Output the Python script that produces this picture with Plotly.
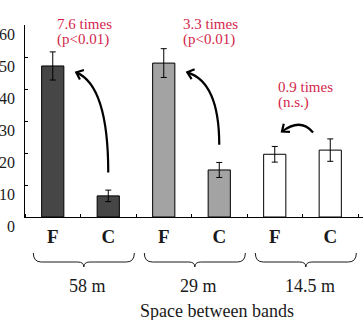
import math
import plotly.graph_objects as go

# ---------------- data ----------------
BAR_LABELS = ["F", "C", "F", "C", "F", "C"]
VALUES = [47.2, 6.6, 48.1, 14.7, 19.6, 20.9]
ERRORS = [4.4, 1.8, 4.5, 2.35, 2.45, 3.5]
GROUPS = ["58 m", "29 m", "14.5 m"]
RATIOS = ["7.6 times", "3.3 times", "0.9 times"]
SIGNIF = ["(p<0.01)", "(p<0.01)", "(n.s.)"]
Y_TICKS = [0, 10, 20, 30, 40, 50, 60]
X_TITLE = "Space between bands"

# ---------------- layout geometry ----------------
W, H = 363, 320
ML, MR, MT, MB = 25, 0, 25, 103
X_RANGE = [-0.5, 5.59]
Y_RANGE = [0, 60]
PW, PH = W - ML - MR, H - MT - MB
SX = PW / (X_RANGE[1] - X_RANGE[0])   # px per x unit
SY = PH / (Y_RANGE[1] - Y_RANGE[0])   # px per y unit

FILLS = ["#464646", "#464646", "#a3a3a3", "#a3a3a3", "#ffffff", "#ffffff"]
RED = "#d41f4b"
SERIF = "Liberation Serif"
INK = "#1a1a1a"

xs = list(range(len(VALUES)))


def py_to_paper(py):
    return (H - MB - py) / PH


def dpx(px):
    return px / SX


def dpy(py):
    return -py / SY


fig = go.Figure()
fig.add_trace(go.Bar(
    x=xs, y=VALUES, width=0.4,
    marker=dict(color=FILLS, line=dict(color="black", width=1)),
    error_y=dict(type="data", array=ERRORS, color="black", thickness=1, width=3),
    showlegend=False, hoverinfo="skip",
))

shapes = []
annotations = []

# y tick labels (drawn slightly below their ticks, as in the reference)
for t in Y_TICKS:
    annotations.append(dict(
        x=0, xref="paper", y=t, yref="y", text=str(t), showarrow=False,
        xanchor="right", yanchor="middle", xshift=-8, yshift=-9.5,
        font=dict(family=SERIF, size=16, color=INK),
    ))


def arrowhead(tip, prev, length=8, ang=40):
    bx = (prev[0] - tip[0]) * SX
    by = -(prev[1] - tip[1]) * SY
    n = math.hypot(bx, by)
    bx, by = bx / n, by / n
    pts = []
    for s in (1, -1):
        a = math.radians(ang * s)
        rx = bx * math.cos(a) - by * math.sin(a)
        ry = bx * math.sin(a) + by * math.cos(a)
        pts.append((tip[0] + dpx(rx * length), tip[1] + dpy(ry * length)))
    return (f"M{pts[0][0]},{pts[0][1]} L{tip[0]},{tip[1]} L{pts[1][0]},{pts[1][1]}")


ARROW_TOP = 45.2
for g in range(3):
    fi, ci = 2 * g, 2 * g + 1
    if g < 2:
        x0, y0 = ci, VALUES[ci] + ERRORS[ci] + 5.5
        x3, y3 = ci + dpx(-32), ARROW_TOP
        hpx = (y3 - y0) * SY
        wpx = (x0 - x3) * SX
        p1 = (x0, y0 + 0.52 * (y3 - y0))
        p2 = (x3 + dpx(0.75 * wpx), y3 + dpy(0.1 * hpx))
        path = f"M{x0},{y0} C{p1[0]},{p1[1]} {p2[0]},{p2[1]} {x3},{y3}"
        head = arrowhead((x3, y3), p2)
    else:
        x0, y0 = ci - 0.31, VALUES[ci] + ERRORS[ci] + 2.0
        x3, y3 = fi + 0.13, y0 + 0.3
        pc = ((x0 + x3) / 2 + dpx(3), y0 + dpy(-15))
        path = f"M{x0},{y0} Q{pc[0]},{pc[1]} {x3},{y3}"
        head = arrowhead((x3, y3), pc)
    for p in (path, head):
        shapes.append(dict(type="path", path=p, xref="x", yref="y",
                           line=dict(color="black", width=2.2)))

# ratio annotations
RATIO_POS = [(55, 24.3), (181, 24.3), (276, 87.3)]
for g in range(3):
    px, py = RATIO_POS[g]
    xd = X_RANGE[0] + (px - ML) / SX
    for k, txt in enumerate([RATIOS[g], SIGNIF[g]]):
        annotations.append(dict(
            x=xd, xref="x", y=py_to_paper(py + 15 * k), yref="paper",
            text=txt, showarrow=False, xanchor="left", yanchor="middle",
            font=dict(family=SERIF, size=15, color=RED),
        ))

# braces and group labels
yt, ym, yp = py_to_paper(253), py_to_paper(262), py_to_paper(267)
for g in range(3):
    c = 2 * g + 0.5 + 0.06
    hw = 0.91
    a, b = c - hw, c + hw
    r, r2 = dpx(8), dpx(6)
    path = (f"M{a},{yt} Q{a},{ym} {a + r},{ym} L{c - r2},{ym} "
            f"Q{c},{ym} {c},{yp} Q{c},{ym} {c + r2},{ym} "
            f"L{b - r},{ym} Q{b},{ym} {b},{yt}")
    shapes.append(dict(type="path", path=path, xref="x", yref="paper",
                       line=dict(color=INK, width=1)))
    annotations.append(dict(
        x=2 * g + 0.5 + 0.13, xref="x", y=py_to_paper(285.5), yref="paper",
        text=GROUPS[g], showarrow=False, xanchor="center", yanchor="middle",
        font=dict(family=SERIF, size=18, color=INK),
    ))

annotations.append(dict(
    x=(217 - ML) / PW, xref="paper", y=py_to_paper(311), yref="paper",
    text=X_TITLE, showarrow=False, xanchor="center", yanchor="middle",
    font=dict(family=SERIF, size=18, color=INK),
))

fig.update_layout(
    width=W, height=H,
    margin=dict(l=ML, r=MR, t=MT, b=MB),
    paper_bgcolor="white", plot_bgcolor="white",
    shapes=shapes, annotations=annotations,
    hovermode=False,
    xaxis=dict(
        range=X_RANGE, tickmode="array", tickvals=xs, ticktext=BAR_LABELS,
        ticks="", showgrid=False, zeroline=False,
        showline=True, linecolor="black", linewidth=1,
        tickfont=dict(family=SERIF, size=19, color=INK, weight="bold"),
        ticklabelstandoff=2,
        minor=dict(tickmode="linear", tick0=0.5, dtick=1, ticks="inside",
                   ticklen=3, tickcolor="black", tickwidth=1, showgrid=False),
    ),
    yaxis=dict(
        range=Y_RANGE, tickmode="array", tickvals=Y_TICKS, showticklabels=False,
        ticks="inside", ticklen=3, tickcolor="black", showgrid=False,
        zeroline=False, showline=True, linecolor="black", linewidth=1,
    ),
)

fig.write_html("out.html", config={"displayModeBar": False},
               post_script="document.body.style.margin='0';")
